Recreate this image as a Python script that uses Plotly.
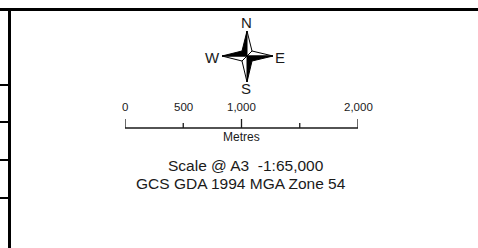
import plotly.graph_objects as go

# ---- data ----
scale_ticks_m = [0, 500, 1000, 1500, 2000]
scale_tick_major = [True, False, True, False, True]
scale_labels = ["0", "500", "1,000", "", "2,000"]
scale_unit = "Metres"
scale_text = "Scale @ A3 \u00a0-1:65,000"
crs_text = "GCS GDA 1994 MGA Zone 54"
compass_letters = ["N", "E", "S", "W"]
table_row_lines_y = [85, 122, 160, 198]

W, H = 478, 248
FONT = "Arial, Liberation Sans, sans-serif"
INK = "#1a1a1a"

fig = go.Figure()

# ---- compass star ----
cx, cy = 247, 56
arm = {"N": (0, -25), "E": (26, 0), "S": (0, 26), "W": (-25, 0)}
r = 5
diag = {"NE": (r, -r), "SE": (r, r), "SW": (-r, r), "NW": (-r, -r)}
# which half of each arm is black (NW and SE quadrants)
halves = [
    ("N", "NW", "black"), ("N", "NE", "white"),
    ("E", "NE", "white"), ("E", "SE", "black"),
    ("S", "SE", "black"), ("S", "SW", "white"),
    ("W", "SW", "white"), ("W", "NW", "black"),
]
for a, d, col in halves:
    ax, ay = arm[a]
    dx, dy = diag[d]
    fig.add_trace(go.Scatter(
        x=[cx, cx + ax, cx + dx, cx], y=[cy, cy + ay, cy + dy, cy],
        mode="lines", fill="toself", fillcolor=col,
        line=dict(color="black", width=1), hoverinfo="skip", showlegend=False))

letter_pos = {"N": (246, 22), "E": (280, 57), "S": (246, 88), "W": (212, 57)}
for L in compass_letters:
    x, y = letter_pos[L]
    fig.add_annotation(x=x, y=y, xref="x", yref="y", text=L, showarrow=False,
                       font=dict(family=FONT, size=15, color=INK))

# ---- scale bar (x2 in metres) ----
bar_y = 128
bx, by = [], []
for v, major in zip(scale_ticks_m, scale_tick_major):
    bx += [v, v, None]
    by += [bar_y, bar_y - (9 if major else 5), None]
bx += [scale_ticks_m[0], scale_ticks_m[-1]]
by += [bar_y, bar_y]
fig.add_trace(go.Scatter(x=bx, y=by, xaxis="x2", yaxis="y", mode="lines",
                         line=dict(color=INK, width=1.3), hoverinfo="skip",
                         showlegend=False, cliponaxis=False))
for v, lab in zip(scale_ticks_m, scale_labels):
    if lab:
        fig.add_annotation(x=v, y=107, xref="x2", yref="y", text=lab,
                           showarrow=False,
                           font=dict(family=FONT, size=11.5, color=INK))
fig.add_annotation(x=(scale_ticks_m[0] + scale_ticks_m[-1]) / 2, y=137,
                   xref="x2", yref="y", text=scale_unit, showarrow=False,
                   font=dict(family=FONT, size=12, color=INK))

fig.add_annotation(x=246, y=165, xref="x", yref="y", text=scale_text,
                   showarrow=False, font=dict(family=FONT, size=15.5, color=INK))
fig.add_annotation(x=241, y=183, xref="x", yref="y", text=crs_text,
                   showarrow=False, font=dict(family=FONT, size=15.5, color=INK))

# ---- frame lines ----
shapes = [
    dict(type="line", x0=0, x1=W, y0=9.5, y1=9.5, line=dict(color="black", width=3)),
    dict(type="line", x0=9.5, x1=9.5, y0=9, y1=H, line=dict(color="black", width=3)),
]
for yy in table_row_lines_y:
    shapes.append(dict(type="line", x0=0, x1=9, y0=yy, y1=yy,
                       line=dict(color="black", width=2)))
for s in shapes:
    s.update(xref="x", yref="y", layer="above")

fig.update_layout(
    width=W, height=H, margin=dict(l=0, r=0, t=0, b=0),
    paper_bgcolor="white", plot_bgcolor="rgba(0,0,0,0)",
    xaxis=dict(range=[0, W], domain=[0, 1], visible=False, fixedrange=True),
    xaxis2=dict(range=[0, 2000], domain=[125 / W, 358 / W], anchor="y",
                visible=False, fixedrange=True),
    yaxis=dict(range=[H, 0], domain=[0, 1], visible=False, fixedrange=True),
    shapes=shapes,
)
fig.write_html("out.html", config={"displayModeBar": False},
               post_script="document.body.style.margin='0';")
